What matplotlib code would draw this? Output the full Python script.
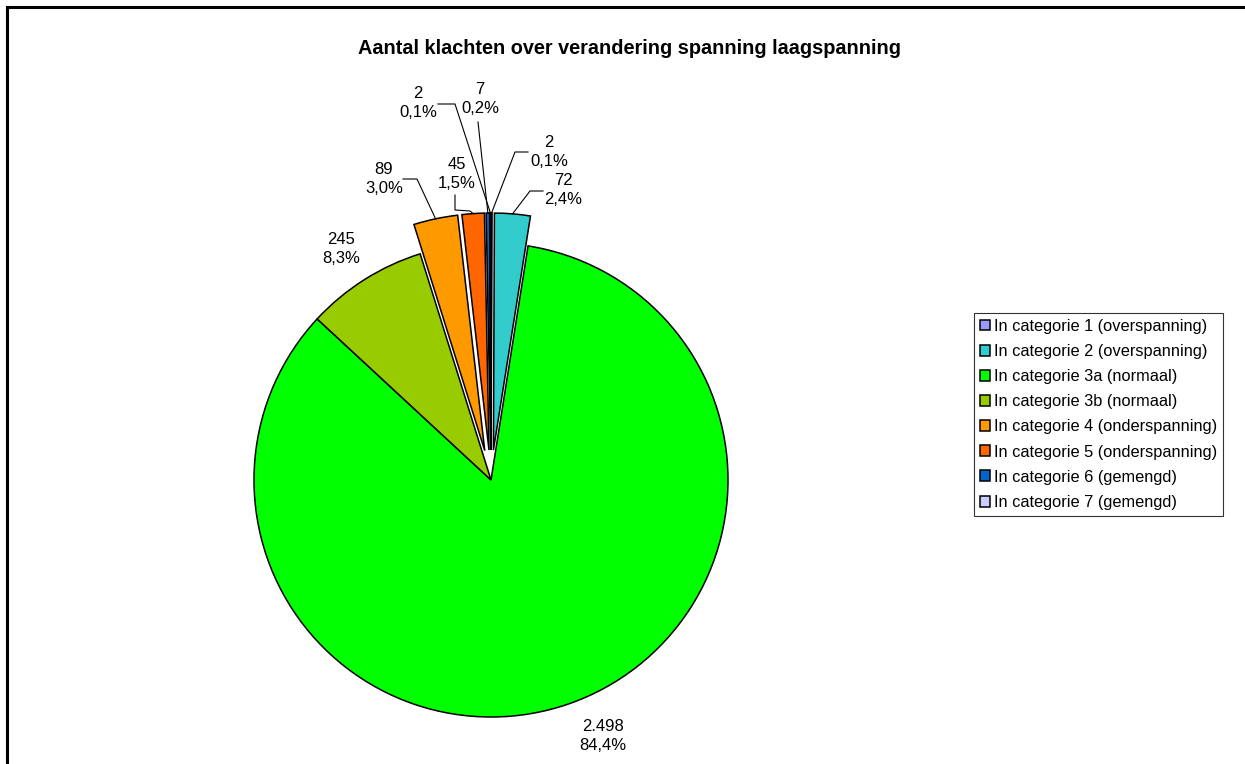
import numpy as np
import matplotlib.pyplot as plt
from matplotlib.patches import Rectangle

plt.rcParams['font.family'] = ['Liberation Sans', 'DejaVu Sans']

# ── Data ──────────────────────────────────────────────────
categories = [
    "In categorie 1 (overspanning)",
    "In categorie 2 (overspanning)",
    "In categorie 3a (normaal)",
    "In categorie 3b (normaal)",
    "In categorie 4 (onderspanning)",
    "In categorie 5 (onderspanning)",
    "In categorie 6 (gemengd)",
    "In categorie 7 (gemengd)",
]
counts = [2, 72, 2498, 245, 89, 45, 7, 2]
colors = ["#9999FF", "#33CCCC", "#00FF00", "#99CC00",
          "#FF9900", "#FF6600", "#0066CC", "#CCCCFF"]
exploded = [True, True, False, False, True, True, True, True]

title = "Aantal klachten over verandering spanning laagspanning"

# ── Layout (pixels, y downwards) ─────────────────────────
W, H = 1245, 764
CX, CY, R = 491, 480, 237
EXPL = 30
# label centre and leader elbow for each slice (None = no leader)
label_pos = [(549, 152), (563, 190), (603, 736), (341, 249),
             (384, 179), (457, 174), (480, 99), (418, 103)]
elbows = [[(528, 152), (515, 152)],
          [(543, 191), (530, 191)],
          None,
          None,
          [(403, 179), (417, 179)],
          [(455, 195), (455, 210), (470, 211)],
          [(478, 122)],
          [(438, 104), (455, 104)]]

fig = plt.figure(figsize=(W / 100, H / 100), dpi=100)
ax = fig.add_axes([0, 0, 1, 1])

wedges, _ = ax.pie(
    counts, colors=colors, startangle=90, counterclock=False,
    center=(CX, H - CY), radius=R,
    explode=[EXPL if e else 0 for e in exploded],
    wedgeprops=dict(edgecolor="black", linewidth=1.1),
    frame=True,
)
ax.set_xlim(0, W)
ax.set_ylim(0, H)
ax.set_aspect("equal")
ax.axis("off")

total = sum(counts)
for w, n, (lx, ly), elb in zip(wedges, counts, label_pos, elbows):
    pct = f"{n / total * 100:.1f}".replace(".", ",")
    num = f"{n:,}".replace(",", ".")
    ax.text(lx, H - ly, f"{num}\n{pct}%", ha="center", va="center",
            fontsize=12, linespacing=1.4)
    if elb is not None:
        tm = np.radians((w.theta1 + w.theta2) / 2)
        ex = w.center[0] + w.r * np.cos(tm)
        ey = w.center[1] + w.r * np.sin(tm)
        xs = [p[0] for p in elb] + [ex]
        ys = [H - p[1] for p in elb] + [ey]
        ax.plot(xs, ys, color="black", lw=0.8)

fig.text(629 / W, 1 - 48 / H, title, ha="center", va="center",
         fontsize=14.3, fontweight="bold")

leg = fig.legend(wedges, categories, loc="upper left",
                 bbox_to_anchor=(974 / W, 1 - 313 / H),
                 fontsize=11.8, frameon=True, fancybox=False,
                 handlelength=0.65, handleheight=0.65, handletextpad=0.25,
                 labelspacing=0.62, borderpad=0.35, borderaxespad=0)
leg.get_frame().set_edgecolor("black")
leg.get_frame().set_linewidth(0.8)

# outer chart border (extends past right / bottom edges)
fig.patches.append(Rectangle((7 / W, -0.1), 1.2, 1.1 - 7 / H,
                             transform=fig.transFigure, fill=False,
                             edgecolor="black", linewidth=2.2))

fig.savefig("out.png", dpi=100)
